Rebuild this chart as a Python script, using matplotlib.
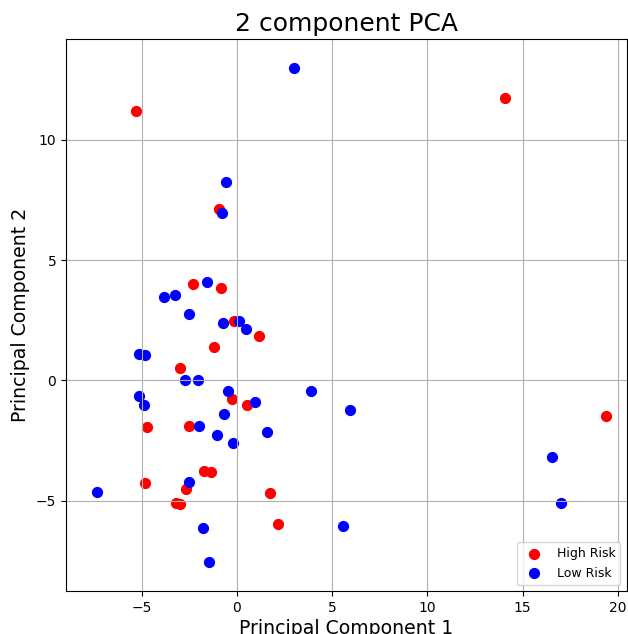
import matplotlib
matplotlib.use("Agg")
import matplotlib.pyplot as plt

# values
targets = ["High Risk", "Low Risk"]
colors = ["r", "b"]

high_x = [-5.30, 14.07, -0.93, -2.33, -0.86, -0.16, 1.14, -1.21, -2.99, -0.26, 0.52,
          -4.72, -2.52, 19.39, -1.73, -1.38, -4.83, -2.68, 1.73, -3.20, -2.98, 2.13]
high_y = [11.18, 11.74, 7.13, 4.01, 3.86, 2.48, 1.84, 1.37, 0.52, -0.79, -1.00,
          -1.94, -1.90, -1.48, -3.75, -3.80, -4.27, -4.49, -4.68, -5.10, -5.15, -5.96]

low_x = [3.01, -0.59, -0.79, -1.59, -3.83, -3.25, -2.52, 0.09, -0.73, 0.49, -5.14,
         -4.83, -2.73, -2.06, -0.46, 0.96, -5.13, -4.90, 3.88, 5.95, -0.67, -1.98,
         -1.07, 1.56, -0.21, -2.50, -7.37, 5.55, -1.80, -1.45, 16.54, 17.01]
low_y = [12.97, 8.23, 6.95, 4.07, 3.47, 3.53, 2.74, 2.48, 2.37, 2.12, 1.11,
         1.05, 0.0, 0.0, -0.42, -0.89, -0.64, -1.00, -0.42, -1.22, -1.41, -1.90,
         -2.27, -2.16, -2.59, -4.21, -4.64, -6.05, -6.12, -7.55, -3.16, -5.11]

fig = plt.figure(figsize=(6.28, 6.34), dpi=100)
ax = fig.add_axes([0.105, 0.068, 0.893, 0.870])
ax.set_xlabel("Principal Component 1", fontsize=13.6, labelpad=3)
ax.set_ylabel("Principal Component 2", fontsize=13.6)
ax.set_title("2 component PCA", fontsize=18)

series = [(high_x, high_y), (low_x, low_y)]
for (xs, ys), color in zip(series, colors):
    ax.scatter(xs, ys, c=color, s=50)

ax.set_xlim(-8.98, 20.47)
ax.set_ylim(-8.74, 14.17)
ax.set_xticks([-5, 0, 5, 10, 15, 20])
ax.set_yticks([-5, 0, 5, 10])
ax.legend(targets, loc="lower right", fontsize=9)
ax.grid()

fig.savefig("out.png", dpi=100)
